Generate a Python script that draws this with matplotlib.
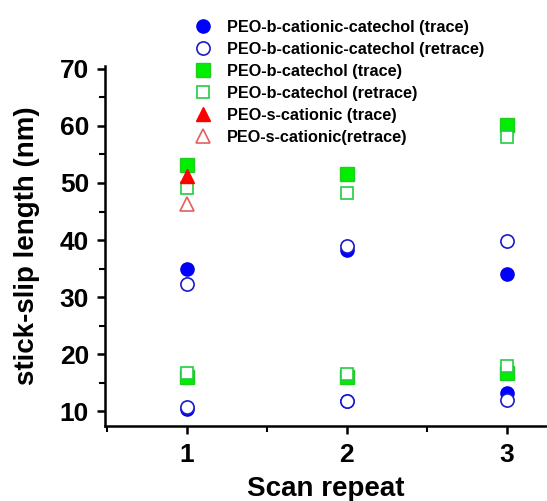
import matplotlib
matplotlib.use("Agg")
import matplotlib.pyplot as plt
from matplotlib.ticker import MultipleLocator

plt.rcParams['font.family'] = ['Liberation Sans', 'DejaVu Sans']
plt.rcParams['font.weight'] = 'bold'

# Scan repeat index and stick-slip lengths (nm); two data points per scan
scan = [1, 1, 2, 2, 3, 3]
bcc_trace = [34.9, 10.3, 38.2, 11.7, 34.0, 13.1]
bcc_retrace = [32.3, 10.75, 39.0, 11.8, 39.9, 11.9]
bcat_trace = [53.2, 16.0, 51.6, 16.0, 60.2, 16.6]
bcat_retrace = [49.1, 16.6, 48.2, 16.5, 58.1, 17.9]
scat_scan = [1]
scat_trace = [51.2]
scat_retrace = [46.3]

labels = [
    "PEO-b-cationic-catechol (trace)",
    "PEO-b-cationic-catechol (retrace)",
    "PEO-b-catechol (trace)",
    "PEO-b-catechol (retrace)",
    "PEO-s-cationic (trace)",
    "PEO-s-cationic(retrace)",
]

fig = plt.figure(figsize=(5.47, 5.01), dpi=100)
ax = fig.add_axes([0.192, 0.150, 0.808, 0.718])

ms = 9.5
h1, = ax.plot(scan, bcc_trace, 'o', ms=ms, color='#0000ff', mec='#0000ee', ls='none')
h2, = ax.plot(scan, bcc_retrace, 'o', ms=ms, mfc='white', mec='#1a1acc', mew=1.2, ls='none')
h3, = ax.plot(scan, bcat_trace, 's', ms=ms, color='#00ee00', mec='#22cc22', ls='none')
h4, = ax.plot(scan, bcat_retrace, 's', ms=ms - 0.5, mfc='white', mec='#22cc44', mew=1.2, ls='none')
h5, = ax.plot(scat_scan, scat_trace, '^', ms=ms + 1, color='#ff0000', ls='none')
h6, = ax.plot(scat_scan, scat_retrace, '^', ms=ms + 1, mfc='white', mec='#e06060', mew=1.2, ls='none')

ax.set_xlim(0.49, 3.25)
ax.set_ylim(7.4, 70.5)
ax.xaxis.set_major_locator(MultipleLocator(1))
ax.xaxis.set_minor_locator(MultipleLocator(0.5))
ax.yaxis.set_major_locator(MultipleLocator(10))
ax.yaxis.set_minor_locator(MultipleLocator(5))
ax.set_yticks([10, 20, 30, 40, 50, 60, 70])

for s in ('top', 'right'):
    ax.spines[s].set_visible(False)
for s in ('left', 'bottom'):
    ax.spines[s].set_linewidth(1.8)

ax.tick_params(axis='both', which='major', direction='out', length=6, width=1.8,
               labelsize=19)
ax.tick_params(axis='y', which='major', pad=5.5)
ax.tick_params(axis='x', which='major', pad=6)
ax.tick_params(axis='both', which='minor', direction='out', length=4, width=1.5)
for lab in ax.get_xticklabels() + ax.get_yticklabels():
    lab.set_fontweight('bold')

ax.set_xlabel("Scan repeat", fontsize=20, fontweight='bold', labelpad=7)
ax.set_ylabel("stick-slip length (nm)", fontsize=20, fontweight='bold', labelpad=14)

leg = fig.legend([h1, h2, h3, h4, h5, h6], labels,
                 loc='upper left', bbox_to_anchor=(0.356, 0.960),
                 frameon=False, fontsize=11.7, handlelength=1.0,
                 handletextpad=1.0, labelspacing=0.43, borderpad=0,
                 borderaxespad=0)
for t in leg.get_texts():
    t.set_fontweight('bold')

fig.savefig("out.png", dpi=100)
